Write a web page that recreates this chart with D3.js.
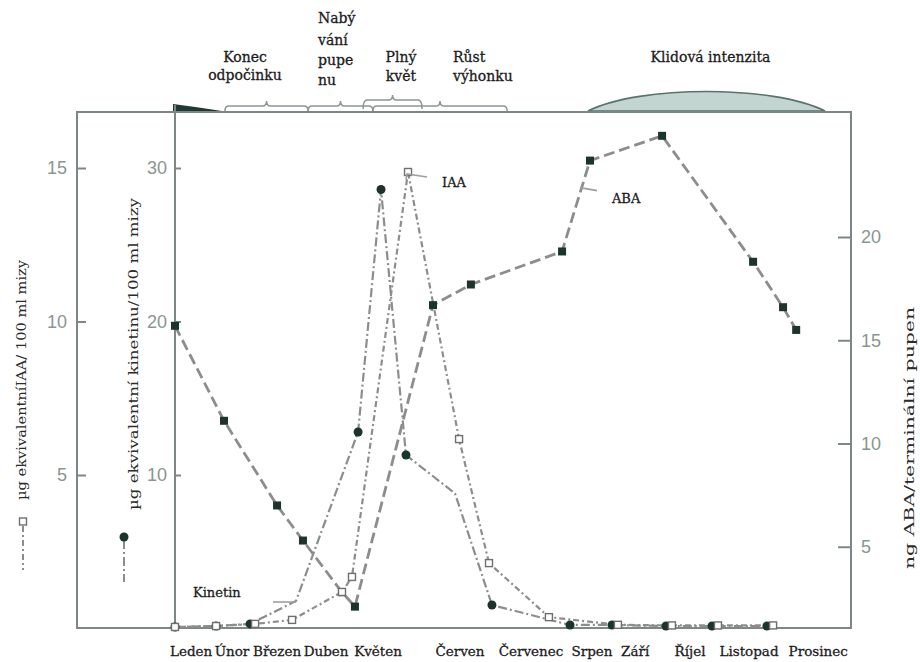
<!DOCTYPE html>
<html>
<head>
<meta charset="utf-8">
<script src="https://cdn.jsdelivr.net/npm/d3@7"></script>
<style>
  body { margin: 0; background: #fff; }
  svg { display: block; }
</style>
</head>
<body>
<svg id="chart" width="920" height="662"></svg>
<script>
// Seasonal course of IAA, kinetin (sap) and ABA (terminal bud) over one year.
// Time is expressed in days from 1 January.

const monthLabels = ["Leden", "Únor", "Březen", "Duben", "Květen", "Červen", "Červenec",
                     "Srpen", "Září", "Říjel", "Listopad", "Prosinec"];
const monthLabelDay = [8.7, 30.8, 55.2, 81.7, 109.8, 154.1, 192.5, 225.5, 248.8, 278.5, 310.4, 347.8];

// ABA, ng per terminal bud
const abaDay   = [0, 26.5, 55.2, 69.2, 90.3, 97.3, 139.5, 160, 209.3, 224.4, 263.4, 312.6, 328.8, 335.9];
const abaValue = [15.7, 11.1, 7.0, 5.3, 2.8, 2.1, 16.7, 17.7, 19.3, 23.7, 24.9, 18.8, 16.6, 15.5];

// IAA equivalents, µg per 100 ml sap
const iaaDay   = [0, 22.2, 43.3, 63.3, 90.3, 95.7, 126, 153.6, 169.8, 202.2, 239.5, 268.7, 293.6, 323.4];
const iaaValue = [0.05, 0.08, 0.15, 0.28, 1.19, 1.68, 14.87, 6.17, 2.13, 0.37, 0.12, 0.1, 0.1, 0.1];

// Kinetin equivalents, µg per 100 ml sap
const kinDay    = [0, 22.2, 40.6, 65.4, 99, 111.4, 124.9, 151.4, 171.4, 213.6, 236.3, 265.5, 290.4, 320.1];
const kinValue  = [0.1, 0.16, 0.3, 1.79, 12.8, 28.6, 11.3, 8.8, 1.53, 0.23, 0.23, 0.16, 0.16, 0.16];
const kinMarked = [true, true, true, false, true, true, true, false, true, true, true, true, true, true];

// Axis ticks
const iaaTicks = [5, 10, 15];
const kinTicks = [10, 20, 30];
const abaTicks = [5, 10, 15, 20];

// Phenological phases (days)
const phaseLines = [["Konec", "odpočinku"], ["Nabý", "vání", "pupe", "nu"], ["Plný", "květ"], ["Růst", "výhonku"]];
const phaseStart = [27, 72, 101.7, 107];
const phaseEnd   = [72, 107, 133.6, 179.6];
const restEnd    = 25.4;              // deep rest wedge at the start of the year
const dormancyStart = 223.3, dormancyEnd = 351.5;

const svg = d3.select("#chart");

const frame = { left: 77, inner: 175, right: 851, top: 112, bottom: 628 };
const x = d3.scaleLinear().domain([0, 365]).range([175, 850]);
const yIAA = d3.scaleLinear().domain([0, 15]).range([628.5, 168]);
const yKin = d3.scaleLinear().domain([0, 30]).range([628.5, 168]);
const yABA = d3.scaleLinear().domain([0, 20]).range([650, 237]);

const frameColor = "#7d8884";
const lineColor = "#8d8d8d";
const markColor = "#1d332e";
const serif = "'DejaVu Serif', serif";
const sans = "'Liberation Sans', Arial, sans-serif";

// ---- top band: phases ----
const band = svg.append("g");

// deep rest wedge
band.append("path")
  .attr("d", `M${x(0) - 2},${frame.top - 1} L${x(0) - 2},${frame.top - 8} Q${x(restEnd) - 25},${frame.top - 5} ${x(restEnd)},${frame.top - 1} Z`)
  .attr("fill", "#1e3a33");

// dormancy intensity dome
const dx0 = x(dormancyStart), dx1 = x(dormancyEnd);
const dw = dx1 - dx0;
band.append("path")
  .attr("d", `M${dx0},${frame.top - 1} C${dx0 + dw * 0.22},${frame.top - 27} ${dx1 - dw * 0.22},${frame.top - 27} ${dx1},${frame.top - 1} Z`)
  .attr("fill", "#c3d5d1").attr("stroke", "#56746d").attr("stroke-width", 1.6);

// braces
function brace(x0, x1, yBase, yBar, yPeak) {
  const xm = (x0 + x1) / 2;
  return `M${x0},${yBase} Q${x0},${yBar} ${x0 + 4},${yBar} L${xm - 4},${yBar} Q${xm},${yBar} ${xm},${yPeak} ` +
         `Q${xm},${yBar} ${xm + 4},${yBar} L${x1 - 4},${yBar} Q${x1},${yBar} ${x1},${yBase}`;
}
phaseStart.forEach((s, i) => {
  const raised = i === 2;
  band.append("path")
    .attr("d", raised ? brace(x(s), x(phaseEnd[i]), frame.top - 3, frame.top - 12, frame.top - 17)
                      : brace(x(s), x(phaseEnd[i]), frame.top - 1, frame.top - 6, frame.top - 11))
    .attr("fill", "none").attr("stroke", "#8a9692").attr("stroke-width", 1.5);
});

// phase labels
const labelStyle = sel => sel.attr("font-family", serif).attr("font-size", 14)
  .attr("fill", "#1c1c1c").attr("stroke", "#1c1c1c").attr("stroke-width", 0.3);
const phaseLabelPos = [
  { x: 245, anchor: "middle", y: [62, 80] },
  { x: 318, anchor: "start", y: [23, 45, 65, 85] },
  { x: 401, anchor: "middle", y: [62, 81] },
  { x: 453, anchor: "start", y: [62, 81] }
];
phaseLines.forEach((lines, i) => {
  lines.forEach((t, j) => {
    svg.append("text").call(labelStyle)
      .attr("x", phaseLabelPos[i].x).attr("y", phaseLabelPos[i].y[j])
      .attr("text-anchor", phaseLabelPos[i].anchor).text(t);
  });
});
svg.append("text").call(labelStyle)
  .attr("x", (dx0 + dx1) / 2 + 4).attr("y", 62).attr("text-anchor", "middle").text("Klidová intenzita");

// ---- frame ----
const fr = svg.append("g").attr("stroke", frameColor).attr("stroke-width", 2).attr("fill", "none");
fr.append("path").attr("d", `M${frame.left},${frame.top} H${frame.right} V${frame.bottom} H${frame.left} Z`);
fr.append("line").attr("x1", frame.inner).attr("x2", frame.inner).attr("y1", frame.top - 7).attr("y2", frame.bottom);

// ---- axes ----
function styleAxis(g) {
  g.select(".domain").remove();
  g.selectAll(".tick line").attr("stroke", frameColor).attr("stroke-width", 2);
  g.selectAll(".tick text").attr("fill", "#8b9591").attr("font-family", sans).attr("font-size", 18);
}
svg.append("g").attr("transform", `translate(${frame.left},0)`)
  .call(d3.axisLeft(yIAA).tickValues(iaaTicks).tickSize(-9).tickPadding(10))
  .call(styleAxis);
svg.append("g").attr("transform", `translate(${frame.inner},0)`)
  .call(d3.axisLeft(yKin).tickValues(kinTicks).tickSize(-6).tickPadding(8))
  .call(styleAxis);
svg.append("g").attr("transform", `translate(${frame.right},0)`)
  .call(d3.axisRight(yABA).tickValues(abaTicks).tickSize(-13).tickPadding(10))
  .call(styleAxis);

// axis titles
const titleStyle = sel => sel.attr("font-family", serif).attr("font-size", 12.5).attr("fill", "#2b2b2b")
  .attr("text-anchor", "middle").attr("lengthAdjust", "spacingAndGlyphs");
svg.append("text").call(titleStyle)
  .attr("transform", "translate(26,380) rotate(-90)").attr("textLength", 240)
  .text("µg ekvivalentníIAA/ 100 ml mizy");
svg.append("text").call(titleStyle)
  .attr("transform", "translate(138,354) rotate(-90)").attr("textLength", 312)
  .text("µg ekvivalentní kinetinu/100 ml mizy");
svg.append("text").call(titleStyle)
  .attr("transform", "translate(914,438) rotate(-90)").attr("textLength", 262)
  .text("ng ABA/terminální pupen");

// month labels
monthLabels.forEach((m, i) => {
  svg.append("text").call(labelStyle).attr("font-size", 13.5)
    .attr("x", x(monthLabelDay[i])).attr("y", 656).attr("text-anchor", "middle").text(m);
});

// ---- series ----
const abaData = abaDay.map((d, i) => ({ d, v: abaValue[i] }));
const iaaData = iaaDay.map((d, i) => ({ d, v: iaaValue[i] }));
const kinData = kinDay.map((d, i) => ({ d, v: kinValue[i], m: kinMarked[i] }));

const plot = svg.append("g");

plot.append("path").datum(kinData)
  .attr("d", d3.line().x(p => x(p.d)).y(p => yKin(p.v)))
  .attr("fill", "none").attr("stroke", lineColor).attr("stroke-width", 2.2)
  .attr("stroke-dasharray", "9,3,2,3");
plot.append("path").datum(iaaData)
  .attr("d", d3.line().x(p => x(p.d)).y(p => yIAA(p.v)))
  .attr("fill", "none").attr("stroke", lineColor).attr("stroke-width", 2.2)
  .attr("stroke-dasharray", "6,3,2,3");
plot.append("path").datum(abaData)
  .attr("d", d3.line().x(p => x(p.d)).y(p => yABA(p.v)))
  .attr("fill", "none").attr("stroke", lineColor).attr("stroke-width", 2.8)
  .attr("stroke-dasharray", "11,5");

// markers
plot.selectAll(".aba").data(abaData).join("rect")
  .attr("x", p => x(p.d) - 4).attr("y", p => yABA(p.v) - 4)
  .attr("width", 8).attr("height", 8).attr("fill", markColor);
plot.selectAll(".kin").data(kinData.filter(p => p.m)).join("circle")
  .attr("cx", p => x(p.d)).attr("cy", p => yKin(p.v)).attr("r", 4.5).attr("fill", markColor);
plot.selectAll(".iaa").data(iaaData).join("rect")
  .attr("x", p => x(p.d) - 3.5).attr("y", p => yIAA(p.v) - 3.5)
  .attr("width", 7).attr("height", 7).attr("fill", "#fff").attr("stroke", "#6f6f6f").attr("stroke-width", 1.4);

// series labels with short leaders
const iaaPeak = iaaData[d3.maxIndex(iaaData, p => p.v)];
plot.append("path")
  .attr("d", `M${x(iaaPeak.d) - 2},${yIAA(iaaPeak.v) + 8} L${x(iaaPeak.d) - 1},${yIAA(iaaPeak.v) + 2} L${x(iaaPeak.d) + 19},${yIAA(iaaPeak.v) + 5}`)
  .attr("fill", "none").attr("stroke", "#9aa29f").attr("stroke-width", 1.6);
svg.append("text").call(labelStyle).attr("font-size", 13)
  .attr("x", x(iaaPeak.d) + 34).attr("y", yIAA(iaaPeak.v) + 15).text("IAA");

const abaLead = abaData[9];
plot.append("line")
  .attr("x1", x(abaLead.d) - 10).attr("y1", yABA(abaLead.v) + 27)
  .attr("x2", x(abaLead.d) + 7).attr("y2", yABA(abaLead.v) + 30)
  .attr("stroke", "#9aa29f").attr("stroke-width", 1.6);
svg.append("text").call(labelStyle).attr("font-size", 13)
  .attr("x", x(abaLead.d) + 22).attr("y", yABA(abaLead.v) + 42).text("ABA");

const kinLead = kinData[3];
plot.append("line")
  .attr("x1", x(kinLead.d) - 23).attr("y1", yKin(kinLead.v) + 1)
  .attr("x2", x(kinLead.d)).attr("y2", yKin(kinLead.v) + 1)
  .attr("stroke", "#9aa29f").attr("stroke-width", 1.6);
svg.append("text").call(labelStyle).attr("font-size", 13)
  .attr("x", 193).attr("y", yKin(kinLead.v) - 4).text("Kinetin");

// ---- legend keys beside the titles ----
const legend = svg.append("g");
legend.append("line").attr("x1", 23).attr("x2", 23).attr("y1", 526).attr("y2", 570)
  .attr("stroke", lineColor).attr("stroke-width", 2).attr("stroke-dasharray", "6,3,2,3");
legend.append("rect").attr("x", 19.5).attr("y", 518).attr("width", 7).attr("height", 7)
  .attr("fill", "#fff").attr("stroke", "#6f6f6f").attr("stroke-width", 1.4);
legend.append("line").attr("x1", 124).attr("x2", 124).attr("y1", 540).attr("y2", 582)
  .attr("stroke", lineColor).attr("stroke-width", 2).attr("stroke-dasharray", "9,3,2,3");
legend.append("circle").attr("cx", 124).attr("cy", 537).attr("r", 4.5).attr("fill", markColor);
</script>
</body>
</html>
